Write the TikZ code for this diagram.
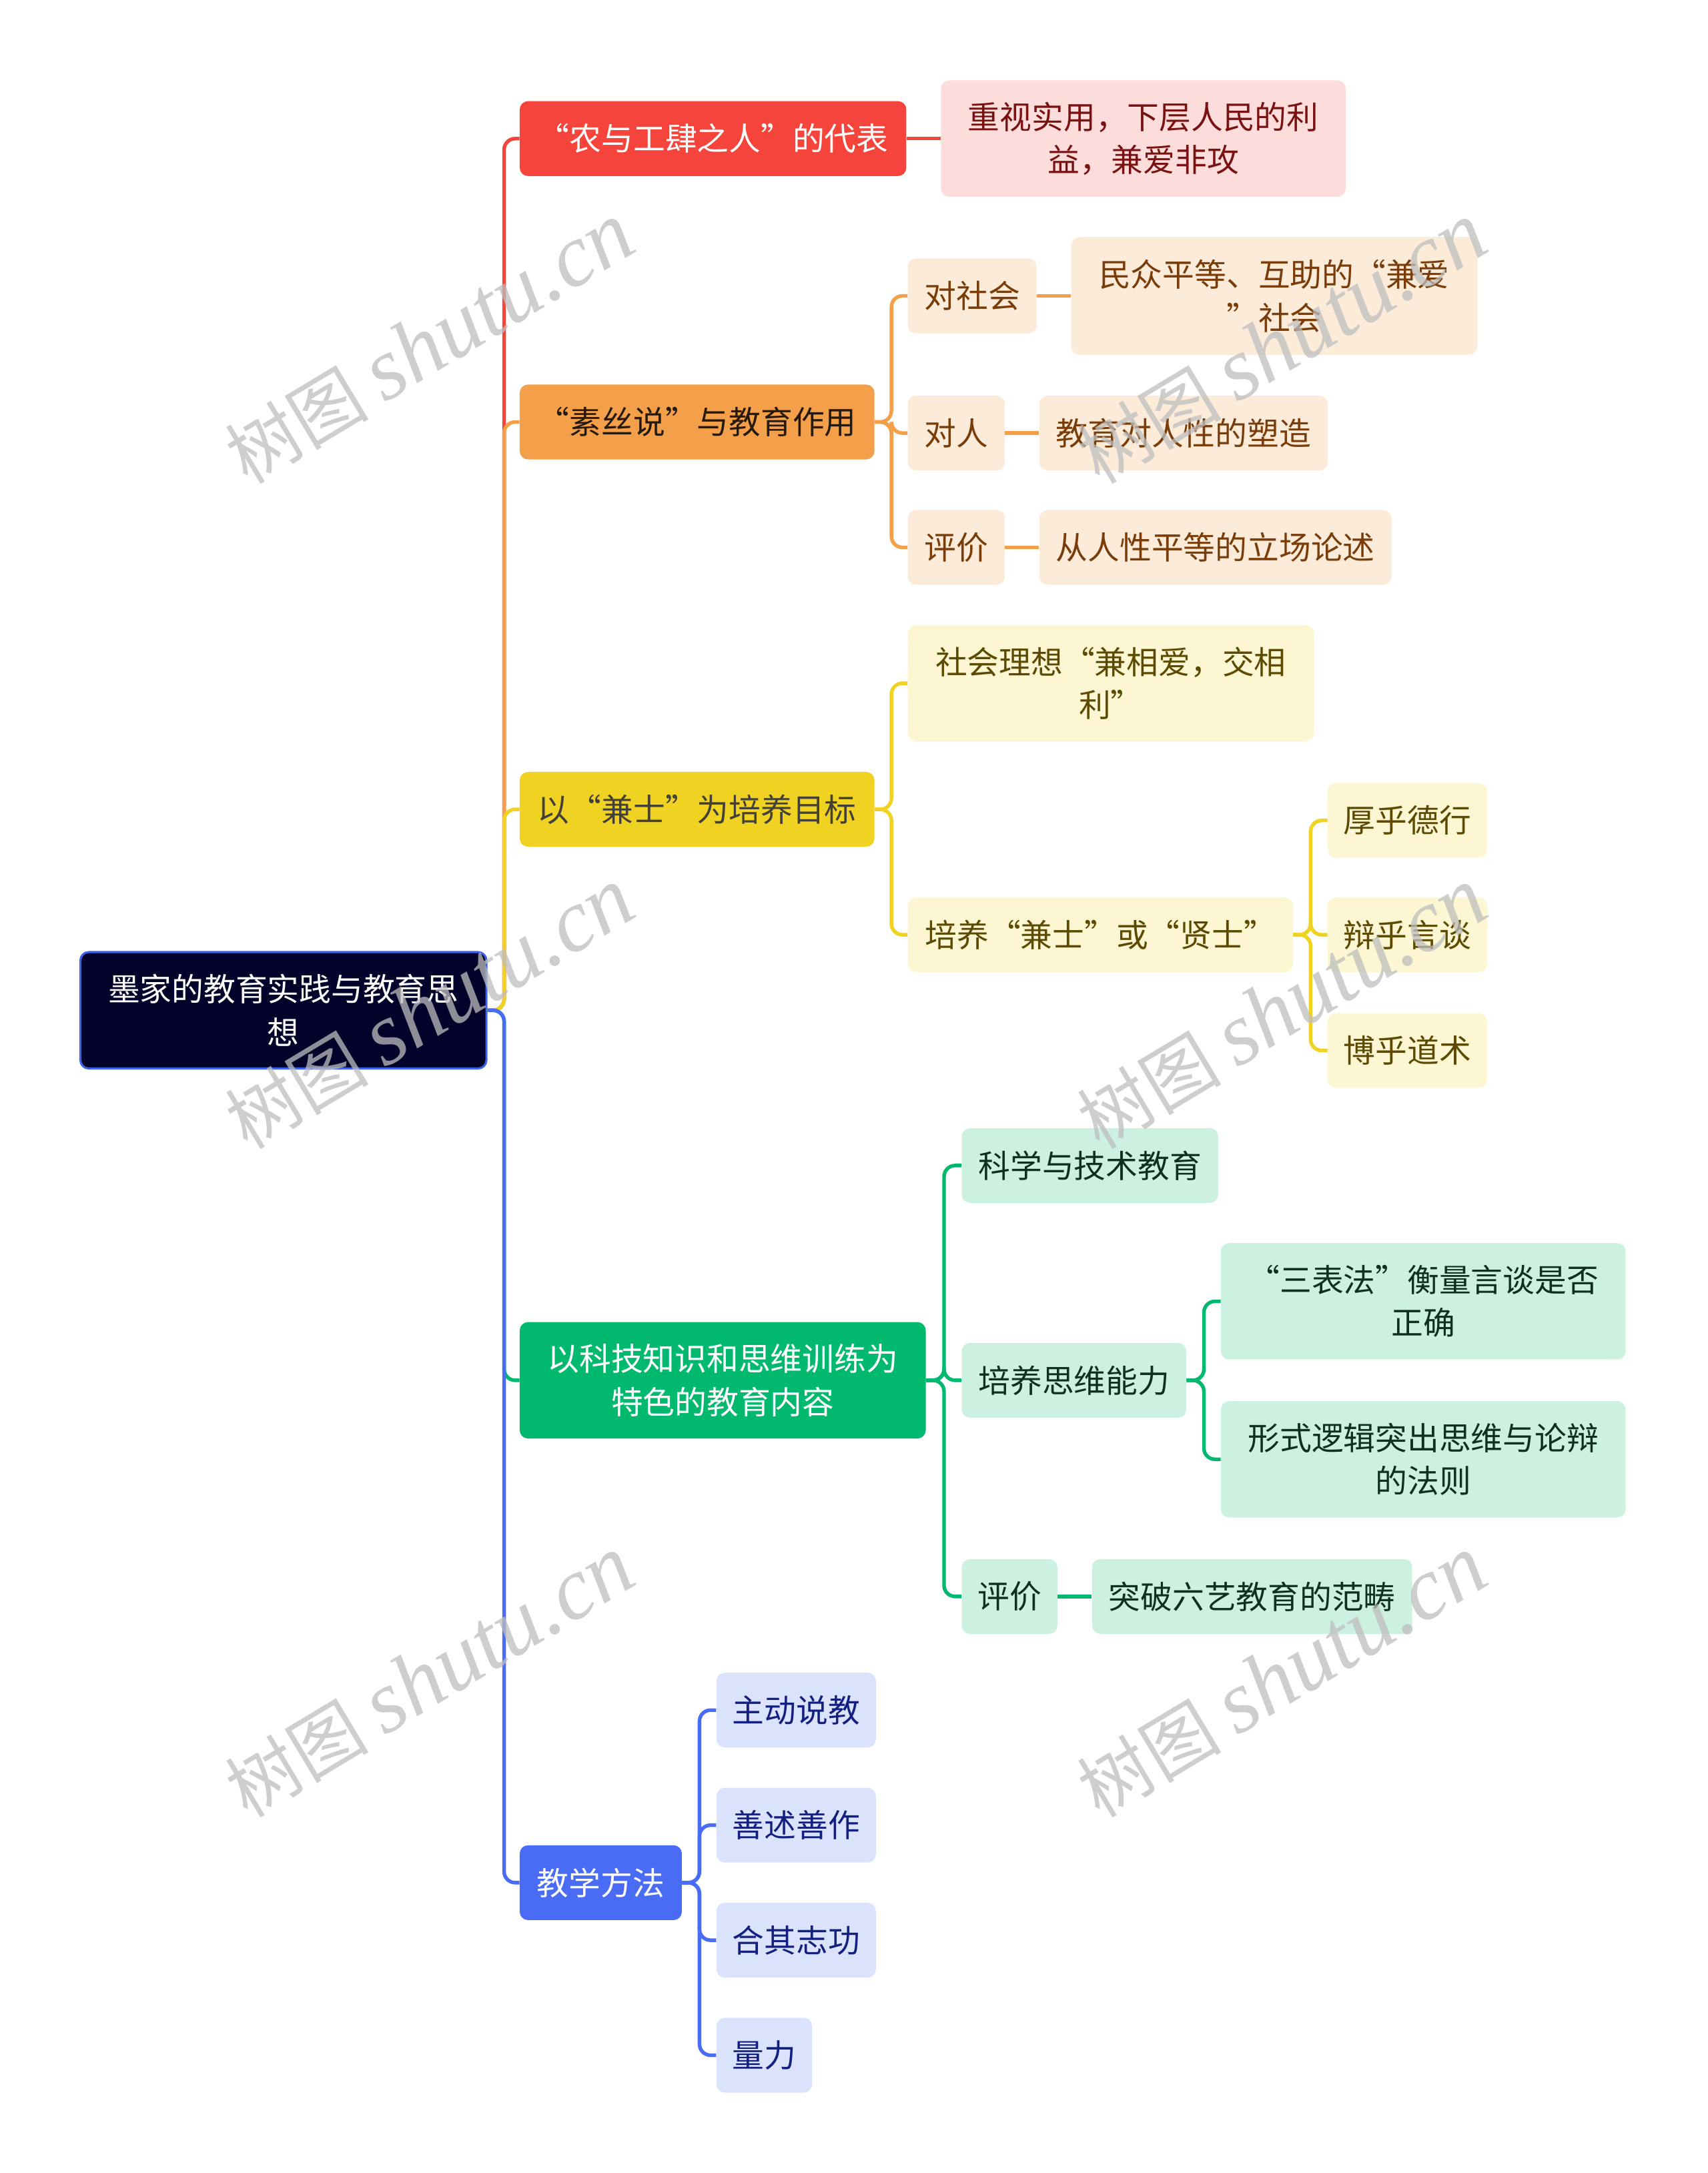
\documentclass[tikz,border=0pt]{standalone}
\usepackage{fontspec}
\setmainfont{Noto Sans CJK SC}
\newfontfamily\wmlatin{Liberation Serif}
\newfontfamily\wmcjk{Noto Sans CJK SC}
\definecolor{rootfill}{HTML}{02022A}
\definecolor{rootline}{HTML}{3D63E6}
\definecolor{cred}{HTML}{F5443B}
\definecolor{credleaf}{HTML}{FDDCDC}
\definecolor{credtext}{HTML}{7A1212}
\definecolor{corange}{HTML}{F4A04A}
\definecolor{corangeleaf}{HTML}{FCEBD9}
\definecolor{corangetext}{HTML}{7A3D0A}
\definecolor{cyellow}{HTML}{F0D223}
\definecolor{cyellowleaf}{HTML}{FDF6D3}
\definecolor{cyellowtext}{HTML}{5C4A00}
\definecolor{cgreen}{HTML}{00B96F}
\definecolor{cgreenleaf}{HTML}{CDF1E1}
\definecolor{cgreentext}{HTML}{0F2F1F}
\definecolor{cblue}{HTML}{4A6CF5}
\definecolor{cblueleaf}{HTML}{DBE2FB}
\definecolor{cbluetext}{HTML}{142080}
\definecolor{wmgray}{HTML}{BEBEBE}
\begin{document}
\begin{tikzpicture}[x=1pt,y=-1pt,
  box/.style={rounded corners=6pt, inner sep=0pt, align=center,
    font=\fontsize{23}{31}\selectfont, minimum height=54pt},
  link/.style={line width=2.6pt, rounded corners=8pt},
  wm/.style={text=wmgray, opacity=0.75, rotate=31, inner sep=0pt}]
\useasboundingbox (0,0) rectangle (1232,1568);

% root
\node[box, fill=rootfill, draw=rootline, line width=1.5pt, text=white,
  minimum width=293pt, minimum height=84pt] (root) at (204.5,729)
  {墨家的教育实践与教育思\\想};

% level 1
\node[box, fill=cred, text=white, minimum width=279pt] (red) at (514.5,100) {“农与工肆之人”的代表};
\node[box, fill=corange, text=black!80!brown, minimum width=256pt] (ora) at (503,304.5) {“素丝说”与教育作用};
\node[box, fill=cyellow, text=black!85!yellow, minimum width=256pt] (yel) at (503,584) {以“兼士”为培养目标};
\node[box, fill=cgreen, text=white, minimum width=293pt, minimum height=84pt] (gre) at (521.5,996) {以科技知识和思维训练为\\特色的教育内容};
\node[box, fill=cblue, text=white, minimum width=117pt] (blu) at (433.5,1358.5) {教学方法};

% red branch
\node[box, fill=credleaf, text=credtext, minimum width=292pt, minimum height=84pt] (redleaf) at (825,100) {重视实用，下层人民的利\\益，兼爱非攻};

% orange branch
\node[box, fill=corangeleaf, text=corangetext, minimum width=93pt] (o1) at (701.5,213.5) {对社会};
\node[box, fill=corangeleaf, text=corangetext, minimum width=293pt, minimum height=85pt] (o1l) at (919.5,213.5) {民众平等、互助的“兼爱\\”社会};
\node[box, fill=corangeleaf, text=corangetext, minimum width=70pt] (o2) at (690,312.5) {对人};
\node[box, fill=corangeleaf, text=corangetext, minimum width=208pt] (o2l) at (854,312.5) {教育对人性的塑造};
\node[box, fill=corangeleaf, text=corangetext, minimum width=70pt] (o3) at (690,395) {评价};
\node[box, fill=corangeleaf, text=corangetext, minimum width=254pt] (o3l) at (877,395) {从人性平等的立场论述};

% yellow branch
\node[box, fill=cyellowleaf, text=cyellowtext, minimum width=293pt, minimum height=84pt] (y1) at (801.5,493) {社会理想“兼相爱，交相\\利”};
\node[box, fill=cyellowleaf, text=cyellowtext, minimum width=278pt] (y2) at (794,674.5) {培养“兼士”或“贤士”};
\node[box, fill=cyellowleaf, text=cyellowtext, minimum width=115pt] (y2a) at (1015.5,592) {厚乎德行};
\node[box, fill=cyellowleaf, text=cyellowtext, minimum width=115pt] (y2b) at (1015.5,674.5) {辩乎言谈};
\node[box, fill=cyellowleaf, text=cyellowtext, minimum width=115pt] (y2c) at (1015.5,758) {博乎道术};

% green branch
\node[box, fill=cgreenleaf, text=cgreentext, minimum width=185pt] (g1) at (786.5,841) {科学与技术教育};
\node[box, fill=cgreenleaf, text=cgreentext, minimum width=162pt] (g2) at (775,996) {培养思维能力};
\node[box, fill=cgreenleaf, text=cgreentext, minimum width=292pt, minimum height=84pt] (g2a) at (1027,939) {“三表法”衡量言谈是否\\正确};
\node[box, fill=cgreenleaf, text=cgreentext, minimum width=292pt, minimum height=84pt] (g2b) at (1027,1053) {形式逻辑突出思维与论辩\\的法则};
\node[box, fill=cgreenleaf, text=cgreentext, minimum width=69pt] (g3) at (728.5,1152) {评价};
\node[box, fill=cgreenleaf, text=cgreentext, minimum width=231pt] (g3l) at (903.5,1152) {突破六艺教育的范畴};

% blue branch
\node[box, fill=cblueleaf, text=cbluetext, minimum width=115pt] (b1) at (574.5,1234) {主动说教};
\node[box, fill=cblueleaf, text=cbluetext, minimum width=115pt] (b2) at (574.5,1317) {善述善作};
\node[box, fill=cblueleaf, text=cbluetext, minimum width=115pt] (b3) at (574.5,1400) {合其志功};
\node[box, fill=cblueleaf, text=cbluetext, minimum width=69pt] (b4) at (551.5,1483) {量力};

% connectors root -> level 1
\draw[link, cred] (root.east) -- ++(12,0) |- (red.west);
\draw[link, corange] (root.east) -- ++(12,0) |- (ora.west);
\draw[link, cyellow] (root.east) -- ++(12,0) |- (yel.west);
\draw[link, cgreen] (root.east) -- ++(12,0) |- (gre.west);
\draw[link, cblue] (root.east) -- ++(12,0) |- (blu.west);

% red
\draw[link, cred] (red.east) -- (redleaf.west);
% orange
\draw[link, corange] (ora.east) -- ++(12,0) |- (o1.west);
\draw[link, corange] (ora.east) -- ++(12,0) |- (o2.west);
\draw[link, corange] (ora.east) -- ++(12,0) |- (o3.west);
\draw[link, corange] (o1.east) -- (o1l.west);
\draw[link, corange] (o2.east) -- (o2l.west);
\draw[link, corange] (o3.east) -- (o3l.west);
% yellow
\draw[link, cyellow] (yel.east) -- ++(12,0) |- (y1.west);
\draw[link, cyellow] (yel.east) -- ++(12,0) |- (y2.west);
\draw[link, cyellow] (y2.east) -- ++(12.5,0) |- (y2a.west);
\draw[link, cyellow] (y2.east) -- ++(12.5,0) |- (y2b.west);
\draw[link, cyellow] (y2.east) -- ++(12.5,0) |- (y2c.west);
% green
\draw[link, cgreen] (gre.east) -- ++(13,0) |- (g1.west);
\draw[link, cgreen] (gre.east) -- ++(13,0) |- (g2.west);
\draw[link, cgreen] (gre.east) -- ++(13,0) |- (g3.west);
\draw[link, cgreen] (g2.east) -- ++(12.5,0) |- (g2a.west);
\draw[link, cgreen] (g2.east) -- ++(12.5,0) |- (g2b.west);
\draw[link, cgreen] (g3.east) -- (g3l.west);
% blue
\draw[link, cblue] (blu.east) -- ++(12.5,0) |- (b1.west);
\draw[link, cblue] (blu.east) -- ++(12.5,0) |- (b2.west);
\draw[link, cblue] (blu.east) -- ++(12.5,0) |- (b3.west);
\draw[link, cblue] (blu.east) -- ++(12.5,0) |- (b4.west);

% watermarks
\foreach \wx/\wy [count=\i] in {310/248, 310/728, 310/1210, 925/248, 925/728, 925/1210}{
  \node[wm] (wm\i) at (\wx,\wy) {\wmcjk\fontsize{52}{52}\selectfont 树图\ \wmlatin\itshape\fontsize{64}{64}\selectfont shutu.cn};
}
\end{tikzpicture}
\end{document}
